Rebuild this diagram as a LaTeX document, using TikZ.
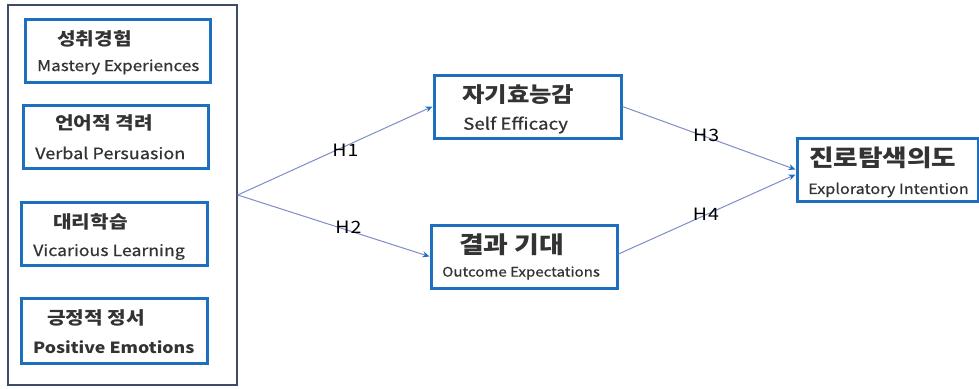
\documentclass[tikz,border=0pt]{standalone}
\usepackage{fontspec}
\setmainfont{Noto Sans CJK KR}[FakeStretch=1.15]
\newfontfamily\engfont{Noto Sans CJK KR}[FakeStretch=1.15,FakeBold=0.6]
\usetikzlibrary{arrows.meta}
\definecolor{boxblue}{HTML}{1F6FC0}
\definecolor{linecol}{HTML}{7E8DC8}
\definecolor{outercol}{HTML}{3E4C68}
\definecolor{txt}{HTML}{333333}
\newcommand{\fsz}[1]{\fontsize{#1}{#1}\selectfont}
\tikzset{
  factor/.style={draw=boxblue, line width=3pt, fill=white, inner sep=0pt},
  outerbox/.style={draw=outercol, line width=1.4pt},
  kor/.style={anchor=west, inner sep=0pt, text=txt, font=\fsz{17.6}\bfseries},
  eng/.style={anchor=west, inner sep=0pt, text=txt},
  conn/.style={draw=linecol, line width=1pt, -{Stealth[length=7pt,width=6pt,color=boxblue]}},
  hlab/.style={inner sep=0pt, text=black, font=\fsz{17}\addfontfeature{LetterSpace=6}}
}
\begin{document}
\begin{tikzpicture}[x=1pt,y=-1pt]
\useasboundingbox (0,0) rectangle (979,388);
\fill[white] (0,0) rectangle (979,388);
% outer box
\node[outerbox, minimum width=229pt, minimum height=380pt, inner sep=0pt] (outer) at (122.5,195) {};
% left boxes
\node[factor, minimum width=185pt, minimum height=63pt] (b1) at (117.5,50.5) {};
\node[kor] (b1k) at (57,39) {성취경험};
\node[eng, font=\engfont\fsz{14.9}] (b1e) at (37,67) {Mastery Experiences};
\node[factor, minimum width=185pt, minimum height=63pt] (b2) at (115.5,136.5) {};
\node[kor] (b2k) at (55,123) {언어적 격려};
\node[eng, font=\engfont\fsz{15.7}] (b2e) at (35,153) {Verbal Persuasion};
\node[factor, minimum width=186pt, minimum height=63pt] (b3) at (114,233.5) {};
\node[kor] (b3k) at (53,222) {대리학습};
\node[eng, font=\engfont\fsz{15.4}] (b3e) at (33,252) {Vicarious Learning};
\node[factor, minimum width=186pt, minimum height=65pt] (b4) at (114,330.5) {};
\node[kor] (b4k) at (47,318) {긍정적 정서};
\node[eng, font=\fsz{15.4}\bfseries] (b4e) at (33,347) {Positive Emotions};
% middle boxes
\node[factor, minimum width=187pt, minimum height=63pt] (se) at (527.5,106.5) {};
\node[kor, font=\fsz{21.2}\bfseries] (sek) at (462,95) {자기효능감};
\node[eng, font=\engfont\fsz{16.3}] (see) at (463,125) {Self Efficacy};
\node[factor, minimum width=186pt, minimum height=63pt] (oe) at (524,256.5) {};
\node[kor, font=\fsz{23.4}\bfseries] (oek) at (459,245) {결과 기대};
\node[eng, font=\engfont\fsz{13.1}] (oee) at (442,273) {Outcome Expectations};
% right box
\node[factor, minimum width=181pt, minimum height=63pt] (ei) at (887.5,169.5) {};
\node[kor, font=\fsz{23.2}\bfseries] (eik) at (809,158) {진로탐색의도};
\node[eng, font=\engfont\fsz{14.1}] (eie) at (808,190) {Exploratory Intention};
% connectors
\coordinate (br) at (outer.east);
\draw[conn] (br) -- (se.west) node[pos=0.553, hlab, yshift=-4pt] (h1) {H1};
\draw[conn] (br) -- (oe.west) node[pos=0.577, hlab, yshift=3pt] (h2) {H2};
\draw[conn] (se.east) -- (ei.west) node[pos=0.483, hlab, yshift=2pt] (h3) {H3};
\draw[conn] ([yshift=2.5pt]oe.east) -- ([yshift=-5pt]ei.west) node[pos=0.494, hlab] (h4) {H4};
\end{tikzpicture}
\end{document}
